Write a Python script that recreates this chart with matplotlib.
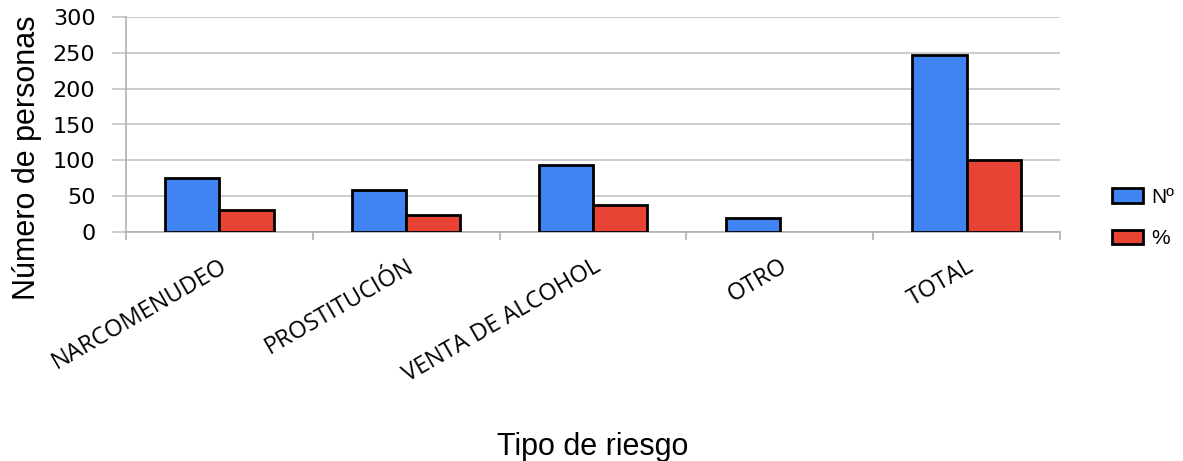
import matplotlib
matplotlib.use("Agg")
import matplotlib.pyplot as plt
import numpy as np

categories = ["NARCOMENUDEO", "PROSTITUCIÓN", "VENTA DE ALCOHOL", "OTRO", "TOTAL"]
numero = [75, 59, 93, 20, 247]
porcentaje = [31, 24, 38, np.nan, 100]
series_labels = ["Nº", "%"]
yticks = [0, 50, 100, 150, 200, 250, 300]

blue = "#3F84F2"
red = "#E94335"

fig = plt.figure(figsize=(11.83, 4.61), dpi=100)
ax = fig.add_axes([126/1183, 1-232/461, (1060-126)/1183, (232-17)/461])

x = np.arange(len(categories)) + 0.5
w = 0.29
ax.bar(x - w/2, numero, w, color=blue, edgecolor="black", linewidth=2, label=series_labels[0], zorder=3)
ax.bar(x + w/2, porcentaje, w, color=red, edgecolor="black", linewidth=2, label=series_labels[1], zorder=3)

ax.set_xlim(0, len(categories))
ax.set_ylim(0, 300)
ax.set_yticks(yticks)
ax.yaxis.grid(True, color="#C4C4C4", linewidth=1.2, zorder=0)
ax.set_axisbelow(True)
for s in ["top", "right"]:
    ax.spines[s].set_visible(False)
for s in ["left", "bottom"]:
    ax.spines[s].set_color("#B0B0B0")
    ax.spines[s].set_linewidth(1.2)

ax.set_xticks(x)
ax.set_xticklabels(categories, rotation=30, ha="right", rotation_mode="anchor",
                   fontsize=17, family="Open Sans")
ax.tick_params(axis="x", which="major", length=0, pad=16)
ax.set_xticks(np.arange(len(categories) + 1), minor=True)
ax.tick_params(axis="x", which="minor", length=6, color="#B0B0B0", width=1.2, direction="out")
ax.tick_params(axis="y", length=10, color="#C4C4C4", width=1.2, labelsize=16, pad=12)
for lbl in ax.get_yticklabels():
    lbl.set_family("DejaVu Sans")

fig.text(27/1183, 1-158/461, "Número de personas", rotation=90, ha="center", va="center",
         fontsize=22, family="Liberation Sans")
fig.text(593/1183, 1-447/461, "Tipo de riesgo", ha="center", va="center",
         fontsize=22, family="Liberation Sans")

leg = fig.legend(loc="center left", bbox_to_anchor=(1112/1183, 1-218/461), frameon=False,
                 prop={"family": "Liberation Sans", "size": 15}, handlelength=1.5,
                 handleheight=0.7, handletextpad=0.4, labelspacing=1.1,
                 borderpad=0, borderaxespad=0)

fig.savefig("out.png", dpi=100)
